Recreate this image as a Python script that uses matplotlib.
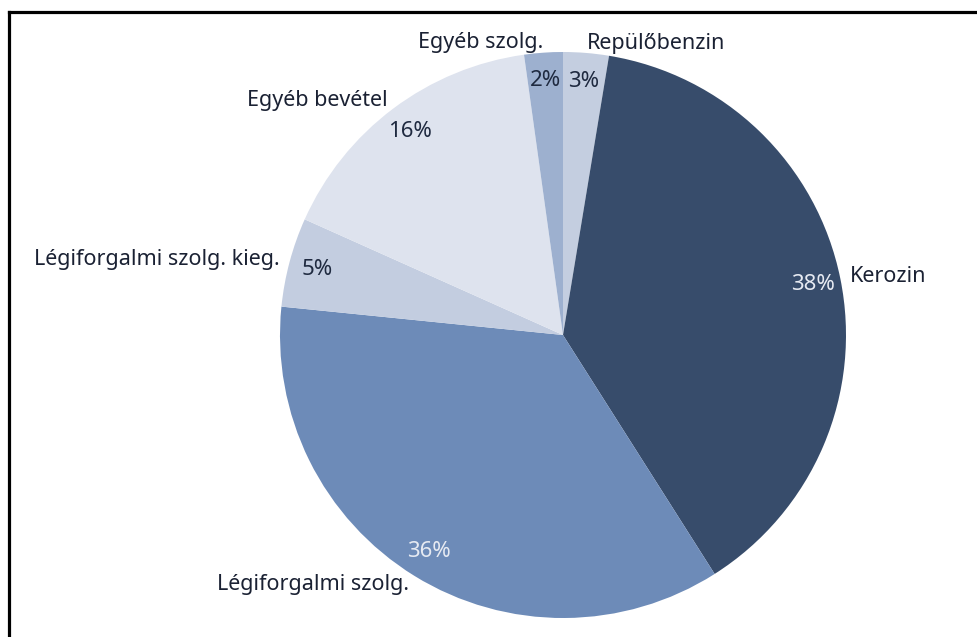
import matplotlib
matplotlib.use("Agg")
import matplotlib.pyplot as plt
from matplotlib.lines import Line2D

plt.rcParams['font.family'] = ['Noto Sans', 'DejaVu Sans']

labels = ['Repülőbenzin', 'Kerozin', 'Légiforgalmi szolg.', 'Légiforgalmi szolg. kieg.',
          'Egyéb bevétel', 'Egyéb szolg.']
values = [2.6, 38.4, 35.6, 5.1, 16.1, 2.2]
colors = ['#c4cee0', '#374c6b', '#6d8bb8', '#c3cde0', '#dee3ee', '#9db0cf']
pct_colors = ['#1f2a40', '#e6eaf2', '#e6eaf2', '#1f2a40', '#1f2a40', '#1f2a40']

fig = plt.figure(figsize=(9.77, 6.37), dpi=100)
ax = fig.add_axes([280 / 977, 19 / 637, 566 / 977, 566 / 637])

wedges, texts, pcts = ax.pie(values, labels=labels, colors=colors, startangle=90,
                             counterclock=False, autopct='%.0f%%', pctdistance=0.9,
                             labeldistance=1.035, wedgeprops=dict(linewidth=0),
                             textprops=dict(fontsize=15.5, color='#1a2133'))
for t, c in zip(pcts, pct_colors):
    t.set_color(c)
    t.set_fontsize(16)

ax.set_xlim(-1, 1)
ax.set_ylim(-1, 1)
ax.set_aspect('equal')

# frame of the original screenshot (left and top edges only)
fig.add_artist(Line2D([9 / 977, 9 / 977], [0, 1 - 12 / 637], color='black', lw=2.3))
fig.add_artist(Line2D([9 / 977, 1], [1 - 12 / 637, 1 - 12 / 637], color='black', lw=2.3))

fig.savefig('out.png', dpi=100)
